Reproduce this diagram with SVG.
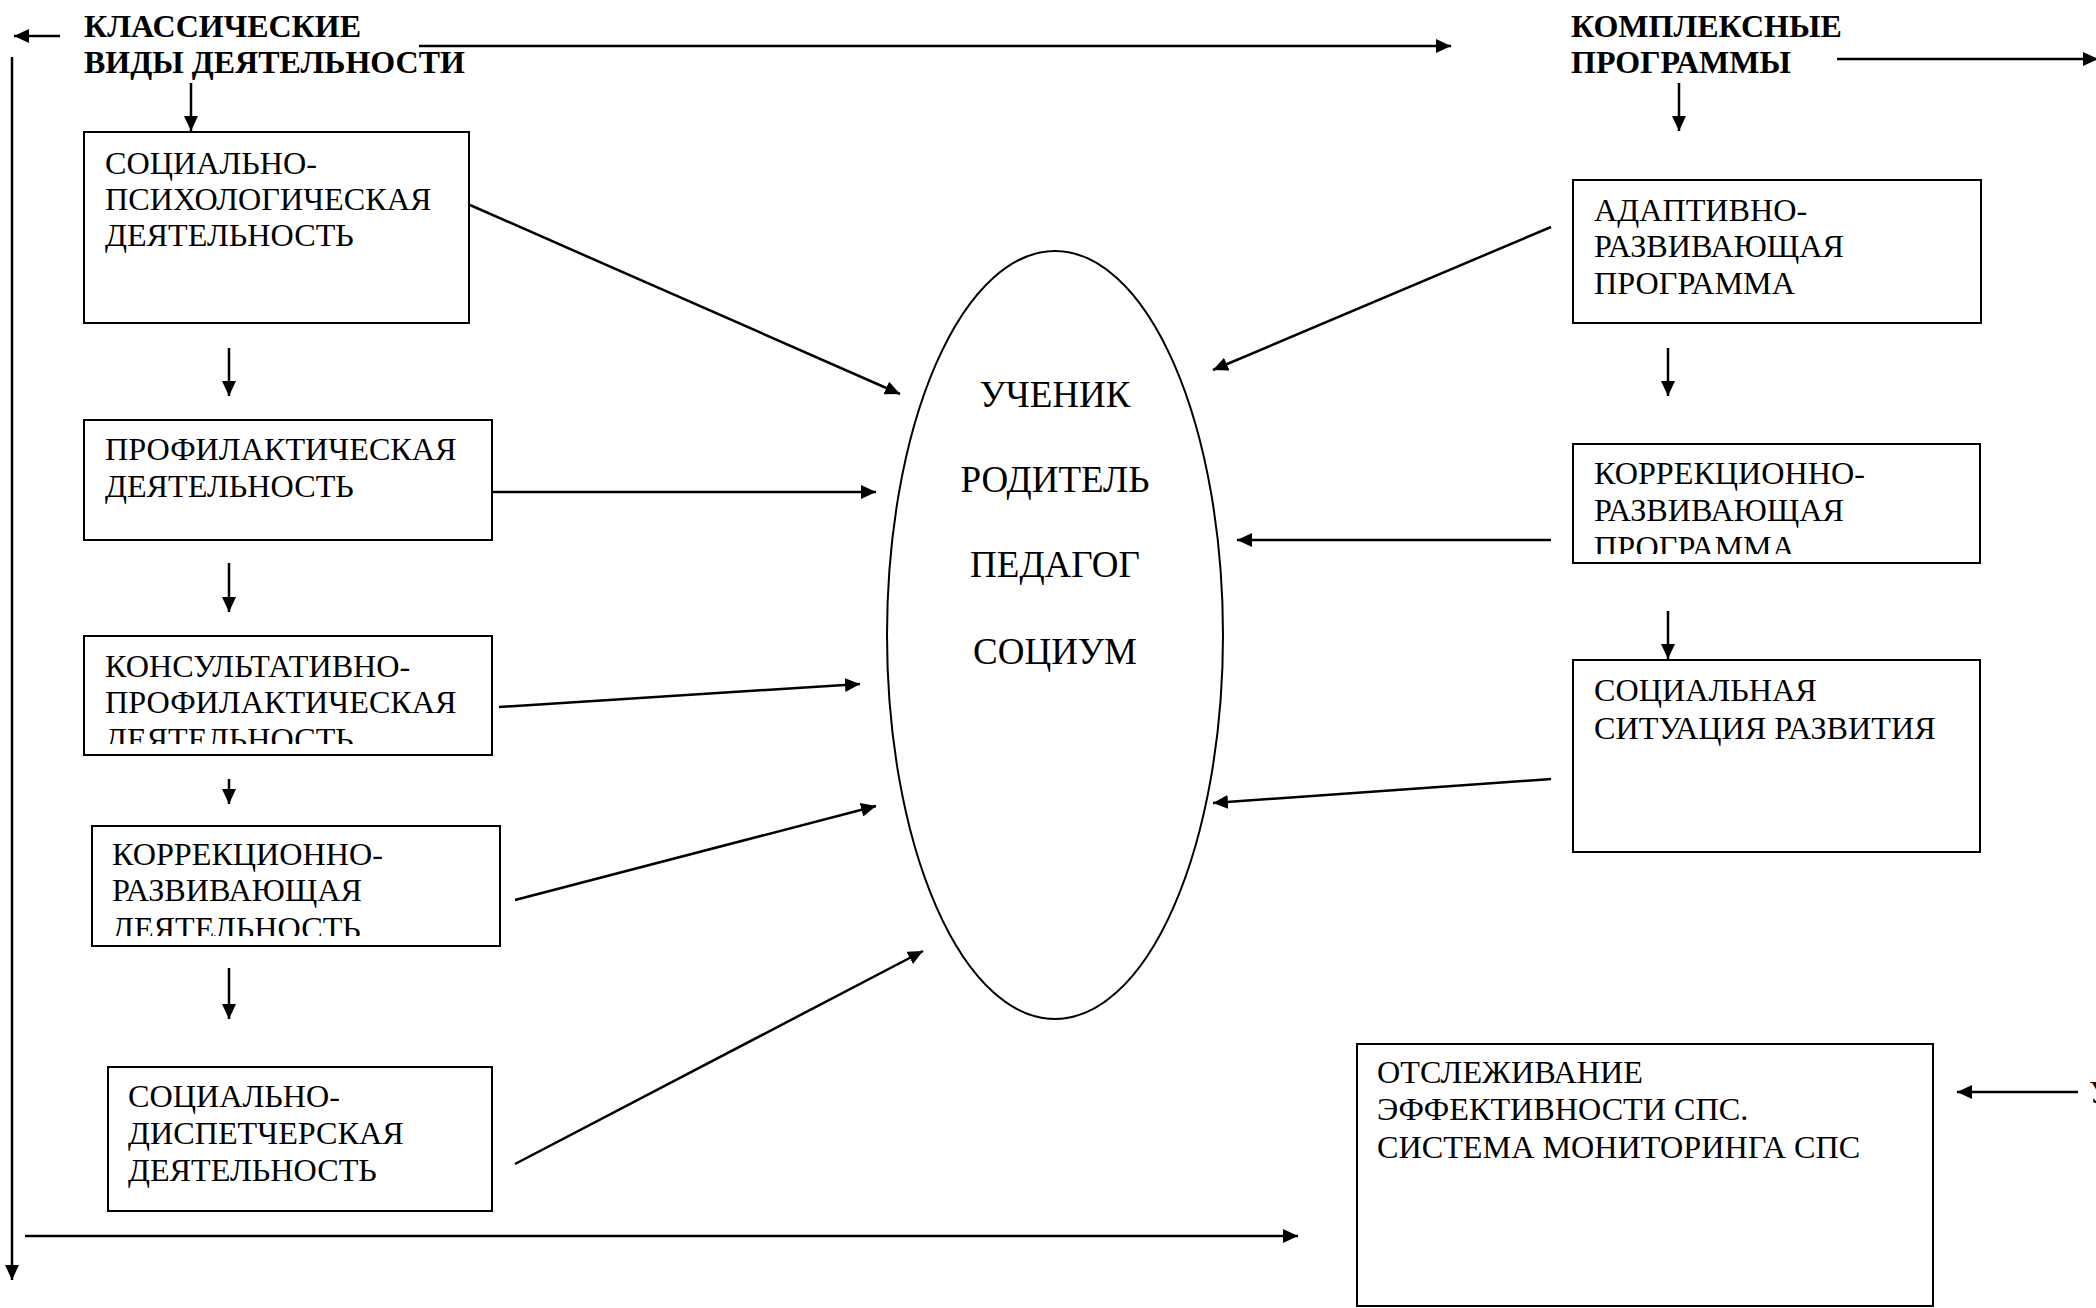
<svg xmlns="http://www.w3.org/2000/svg" width="2096" height="1308" viewBox="0 0 2096 1308">
<style>
.bx{fill:#fff;stroke:#000;stroke-width:2}
.t{font-family:"Liberation Serif","Times New Roman",serif;font-size:32.2px;fill:#000}
.h{font-family:"Liberation Serif","Times New Roman",serif;font-size:32px;font-weight:bold;fill:#000}
.c{font-family:"Liberation Serif","Times New Roman",serif;font-size:37px;fill:#000;text-anchor:middle}
.ln{stroke:#000;stroke-width:2.5;fill:none}
.ar{stroke:#000;stroke-width:2.5;fill:none;marker-end:url(#ah)}
</style>
<defs>
<marker id="ah" markerUnits="userSpaceOnUse" markerWidth="16" markerHeight="14" refX="15" refY="7" orient="auto">
<path d="M0,0 L15,7 L0,14 z" fill="#000"/>
</marker>
<clipPath id="cl3"><rect x="84" y="636" width="408" height="108"/></clipPath>
<clipPath id="cl4"><rect x="92" y="826" width="408" height="110"/></clipPath>
<clipPath id="clr2"><rect x="1573" y="444" width="407" height="110"/></clipPath>
</defs>
<rect width="2096" height="1308" fill="#fff"/>

<g id="title-left">
<text class="h" x="84" y="37">КЛАССИЧЕСКИЕ</text>
<text class="h" x="84" y="73">ВИДЫ ДЕЯТЕЛЬНОСТИ</text>
</g>
<g id="title-right">
<text class="h" x="1571" y="37">КОМПЛЕКСНЫЕ</text>
<text class="h" x="1571" y="73">ПРОГРАММЫ</text>
</g>

<g id="box-l1">
<rect class="bx" x="84" y="132" width="385" height="191"/>
<text class="t" x="105" y="174">СОЦИАЛЬНО-</text>
<text class="t" x="105" y="210">ПСИХОЛОГИЧЕСКАЯ</text>
<text class="t" x="105" y="246">ДЕЯТЕЛЬНОСТЬ</text>
</g>
<g id="box-l2">
<rect class="bx" x="84" y="420" width="408" height="120"/>
<text class="t" x="105" y="460">ПРОФИЛАКТИЧЕСКАЯ</text>
<text class="t" x="105" y="497">ДЕЯТЕЛЬНОСТЬ</text>
</g>
<g id="box-l3">
<rect class="bx" x="84" y="636" width="408" height="119"/>
<g clip-path="url(#cl3)">
<text class="t" x="105" y="677">КОНСУЛЬТАТИВНО-</text>
<text class="t" x="105" y="713">ПРОФИЛАКТИЧЕСКАЯ</text>
<text class="t" x="105" y="750">ДЕЯТЕЛЬНОСТЬ</text>
</g>
</g>
<g id="box-l4">
<rect class="bx" x="92" y="826" width="408" height="120"/>
<g clip-path="url(#cl4)">
<text class="t" x="112" y="865">КОРРЕКЦИОННО-</text>
<text class="t" x="112" y="901">РАЗВИВАЮЩАЯ</text>
<text class="t" x="112" y="939">ДЕЯТЕЛЬНОСТЬ</text>
</g>
</g>
<g id="box-l5">
<rect class="bx" x="108" y="1067" width="384" height="144"/>
<text class="t" x="128" y="1107">СОЦИАЛЬНО-</text>
<text class="t" x="128" y="1144">ДИСПЕТЧЕРСКАЯ</text>
<text class="t" x="128" y="1181">ДЕЯТЕЛЬНОСТЬ</text>
</g>

<g id="center">
<ellipse cx="1055" cy="635" rx="168" ry="384" fill="#fff" stroke="#000" stroke-width="2"/>
<text class="c" x="1055" y="407">УЧЕНИК</text>
<text class="c" x="1055" y="492">РОДИТЕЛЬ</text>
<text class="c" x="1055" y="577">ПЕДАГОГ</text>
<text class="c" x="1055" y="664">СОЦИУМ</text>
</g>

<g id="box-r1">
<rect class="bx" x="1573" y="180" width="408" height="143"/>
<text class="t" x="1594" y="221">АДАПТИВНО-</text>
<text class="t" x="1594" y="257">РАЗВИВАЮЩАЯ</text>
<text class="t" x="1594" y="294">ПРОГРАММА</text>
</g>
<g id="box-r2">
<rect class="bx" x="1573" y="444" width="407" height="119"/>
<g clip-path="url(#clr2)">
<text class="t" x="1594" y="484">КОРРЕКЦИОННО-</text>
<text class="t" x="1594" y="521">РАЗВИВАЮЩАЯ</text>
<text class="t" x="1594" y="558">ПРОГРАММА</text>
</g>
</g>
<g id="box-r3">
<rect class="bx" x="1573" y="660" width="407" height="192"/>
<text class="t" x="1594" y="701">СОЦИАЛЬНАЯ</text>
<text class="t" x="1594" y="739">СИТУАЦИЯ РАЗВИТИЯ</text>
</g>
<g id="box-monitor">
<rect class="bx" x="1357" y="1044" width="576" height="262"/>
<text class="t" x="1377" y="1083">ОТСЛЕЖИВАНИЕ</text>
<text class="t" x="1377" y="1120">ЭФФЕКТИВНОСТИ СПС.</text>
<text class="t" x="1377" y="1158">СИСТЕМА МОНИТОРИНГА СПС</text>
</g>
<g id="edge-fragment">
<text class="t" x="2089" y="1103">У</text>
</g>

<g id="connectors">
<line class="ar" x1="60" y1="36" x2="14" y2="36"/>
<line class="ar" x1="419" y1="46" x2="1451" y2="46"/>
<line class="ar" x1="12" y1="57" x2="12" y2="1280"/>
<line class="ar" x1="191" y1="83" x2="191" y2="131"/>
<line class="ar" x1="25" y1="1236" x2="1298" y2="1236"/>
<line class="ar" x1="229" y1="348" x2="229" y2="396"/>
<line class="ar" x1="229" y1="563" x2="229" y2="612"/>
<line class="ar" x1="229" y1="779" x2="229" y2="804"/>
<line class="ar" x1="229" y1="968" x2="229" y2="1019"/>
<line class="ar" x1="470" y1="205" x2="900" y2="394"/>
<line class="ar" x1="493" y1="492" x2="876" y2="492"/>
<line class="ar" x1="499" y1="707" x2="860" y2="684"/>
<line class="ar" x1="515" y1="900" x2="876" y2="806"/>
<line class="ar" x1="515" y1="1164" x2="923" y2="951"/>
<line class="ar" x1="1837" y1="59" x2="2098" y2="59"/>
<line class="ar" x1="1679" y1="83" x2="1679" y2="131"/>
<line class="ar" x1="1668" y1="348" x2="1668" y2="396"/>
<line class="ar" x1="1668" y1="611" x2="1668" y2="659"/>
<line class="ar" x1="1551" y1="227" x2="1213" y2="370"/>
<line class="ar" x1="1551" y1="540" x2="1237" y2="540"/>
<line class="ar" x1="1551" y1="779" x2="1213" y2="803"/>
<line class="ar" x1="2078" y1="1092" x2="1957" y2="1092"/>
</g>
</svg>
